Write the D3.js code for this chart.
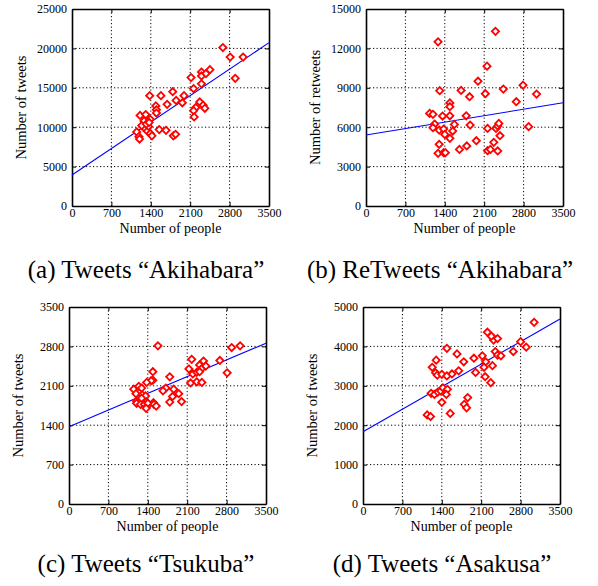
<!DOCTYPE html>
<html>
<head>
<meta charset="utf-8">
<script src="https://cdn.jsdelivr.net/npm/d3@7"></script>
<style>
  body { margin: 0; background: #fff; }
</style>
</head>
<body>
<svg id="chart" width="598" height="586"></svg>
<script>
// ---- data ----
const xTicks = [0, 700, 1400, 2100, 2800, 3500];

const tweetsAkihabara = [
  [2680,20100],[2810,18900],[3040,18900],[2900,16200],[2115,16300],[2300,17000],[2300,16500],
  [2380,16800],[2450,17300],[2160,14900],[2300,15500],[1380,14000],[1580,14000],[1790,14500],
  [1990,14000],[1490,12700],[1690,12900],[1850,13400],[1960,13100],[2270,13200],[2200,12500],
  [2330,12800],[2360,12400],[1210,11500],[1310,11600],[1390,11000],[1280,10800],[1500,12200],
  [1500,11800],[2160,12100],[2170,11300],[1150,9400],[1190,8800],[1200,8500],[1285,9900],
  [1340,9500],[1360,10100],[1390,9200],[1420,8900],[1550,9700],[1670,9600],[1800,8900],
  [1840,9100],[1240,10200],[1320,10400],[1370,10600]
];
const retweetsAkihabara = [
  [1280,12500],[2300,13300],[2150,10650],[1990,9500],[1310,8780],[1690,8800],[1840,8320],
  [2120,8550],[2440,8900],[2790,9200],[3030,8520],[2670,7940],[1490,7850],[1490,7560],
  [1130,7050],[1190,6980],[1360,6850],[1490,6870],[1780,6870],[1220,6240],[1570,6210],
  [1850,6160],[1190,5960],[1300,5780],[1380,5860],[1400,5450],[1490,5150],[1540,5710],
  [1300,4700],[1280,4010],[1380,4060],[1410,4060],[1660,4310],[1790,4570],[1960,4970],
  [2160,5910],[2310,5910],[2340,6090],[2360,6290],[2380,5350],[2270,4850],[2160,4210],
  [2210,4310],[2340,4190],[2890,6040]
];
const tweetsTsukuba = [
  [1580,2810],[2890,2780],[3040,2810],[2180,2570],[2680,2550],[2390,2540],[2320,2470],
  [2430,2450],[2350,2400],[2130,2400],[2200,2310],[2270,2340],[2320,2350],[2810,2330],
  [1490,2350],[1790,2260],[1490,2200],[1460,2190],[1380,2160],[2160,2150],[2270,2170],
  [2360,2160],[1150,2040],[1240,2090],[1290,2060],[1720,2060],[1670,2010],[1860,2040],
  [1950,1960],[1190,1960],[1300,1940],[1360,1920],[1840,1910],[1200,1830],[1280,1840],
  [1370,1810],[1500,1800],[1790,1810],[2000,1820],[1200,1790],[1270,1770],[1340,1770],
  [1380,1730],[1400,1790],[1510,1770],[1550,1740],[1370,1700],[1290,1880]
];
const tweetsAsakusa = [
  [3040,4610],[2210,4360],[2300,4230],[2320,4160],[2390,4200],[2280,4260],[2800,4120],
  [2900,3980],[1490,3950],[2350,3870],[2390,3780],[2450,3760],[2670,3870],[1670,3810],
  [1970,3700],[2120,3760],[2180,3610],[1300,3650],[1790,3610],[2150,3470],[2300,3510],
  [1230,3470],[1700,3380],[1290,3330],[1320,3270],[1400,3290],[1490,3250],[1580,3300],
  [2000,3340],[2170,3230],[2270,3080],[1210,2810],[1270,2780],[1330,2840],[1380,2870],
  [1420,2950],[1500,2910],[1480,2780],[1400,2580],[1800,2530],[1860,2700],[1550,2300],
  [1840,2440],[1140,2260],[1200,2220]
];

// fitted lines: intercept and slope per panel
const fitIntercepts = [3930, 5400, 1373, 1835];
const fitSlopes = [4.8, 0.703, 0.424, 0.817];

const yMaxes = [25000, 15000, 3500, 5000];
const yStep = [5000, 3000, 700, 1000];
const yLabels = ['Number of tweets', 'Number of retweets', 'Number of tweets', 'Number of tweets'];
const captions = ['(a) Tweets \u201cAkihabara\u201d', '(b) ReTweets \u201cAkihabara\u201d',
                  '(c) Tweets \u201cTsukuba\u201d', '(d) Tweets \u201cAsakusa\u201d'];
const seriesList = [tweetsAkihabara, retweetsAkihabara, tweetsTsukuba, tweetsAsakusa];

// ---- layout ----
const FONT = '"Liberation Serif", "Times New Roman", "DejaVu Serif", serif';
const plotW = 197, plotH = 197;
const origins = [[72, 9], [366, 9], [69, 307], [363, 307]];
const captionCx = [146, 440, 146, 442];
const captionY = [278, 278, 572, 572];

const svg = d3.select('#chart');

seriesList.forEach((data, i) => {
    const [left, top] = origins[i];
    const g = svg.append('g').attr('transform', 'translate(' + left + ',' + top + ')');

    const x = d3.scaleLinear().domain([0, 3500]).range([0, plotW]);
    const y = d3.scaleLinear().domain([0, yMaxes[i]]).range([plotH, 0]);
    const yTicks = d3.range(0, yMaxes[i] + 1, yStep[i]);

    // dotted grid
    g.append('g').selectAll('line')
        .data(xTicks.slice(1, -1))
        .join('line')
        .attr('x1', d => x(d)).attr('x2', d => x(d))
        .attr('y1', 0).attr('y2', plotH)
        .attr('stroke', '#000').attr('stroke-width', 1)
        .attr('stroke-dasharray', '1.2,2.3');
    g.append('g').selectAll('line')
        .data(yTicks.slice(1, -1))
        .join('line')
        .attr('y1', d => y(d)).attr('y2', d => y(d))
        .attr('x1', 0).attr('x2', plotW)
        .attr('stroke', '#000').attr('stroke-width', 1)
        .attr('stroke-dasharray', '1.2,2.3');

    // axes: inward ticks on all sides
    const fmt = d3.format('d');
    const axB = g.append('g').attr('transform', 'translate(0,' + plotH + ')')
        .call(d3.axisBottom(x).tickValues(xTicks).tickSizeInner(-4).tickSizeOuter(0).tickPadding(2).tickFormat(fmt));
    const axT = g.append('g')
        .call(d3.axisTop(x).tickValues(xTicks).tickSizeInner(-4).tickSizeOuter(0).tickFormat(''));
    const axL = g.append('g')
        .call(d3.axisLeft(y).tickValues(yTicks).tickSizeInner(-4).tickSizeOuter(0).tickPadding(5).tickFormat(fmt));
    const axR = g.append('g').attr('transform', 'translate(' + plotW + ',0)')
        .call(d3.axisRight(y).tickValues(yTicks).tickSizeInner(-4).tickSizeOuter(0).tickFormat(''));
    [axB, axT, axL, axR].forEach(a => {
        a.attr('font-family', null);
        a.select('.domain').attr('stroke', '#000').attr('stroke-width', 1.6);
        a.selectAll('.tick line').attr('stroke', '#000').attr('stroke-width', 1);
        a.selectAll('text').style('font-family', FONT).style('font-size', '12px').attr('fill', '#000');
    });
    axB.selectAll('text').attr('dy', '0.75em');

    // fitted line
    g.append('line')
        .attr('x1', x(0)).attr('y1', y(fitIntercepts[i]))
        .attr('x2', x(3500)).attr('y2', y(fitIntercepts[i] + fitSlopes[i] * 3500))
        .attr('stroke', '#0000ff').attr('stroke-width', 1.1);

    // diamonds
    g.append('g').selectAll('path')
        .data(data)
        .join('path')
        .attr('d', d3.symbol(d3.symbolSquare, 26))
        .attr('transform', d => 'translate(' + x(d[0]) + ',' + y(d[1]) + ') rotate(45)')
        .attr('fill', '#fff')
        .attr('stroke', '#ff0000')
        .attr('stroke-width', 1.8);

    // axis titles
    g.append('text')
        .attr('x', plotW / 2).attr('y', plotH + 27)
        .attr('text-anchor', 'middle')
        .style('font-family', FONT).style('font-size', '14px')
        .text('Number of people');
    g.append('text')
        .attr('transform', 'translate(' + (-46) + ',' + (plotH / 2) + ') rotate(-90)')
        .attr('text-anchor', 'middle')
        .style('font-family', FONT).style('font-size', '14.5px')
        .text(yLabels[i]);

    // caption
    svg.append('text')
        .attr('x', captionCx[i]).attr('y', captionY[i])
        .attr('text-anchor', 'middle')
        .style('font-family', FONT).style('font-size', '25px')
        .text(captions[i]);
});
</script>
</body>
</html>
